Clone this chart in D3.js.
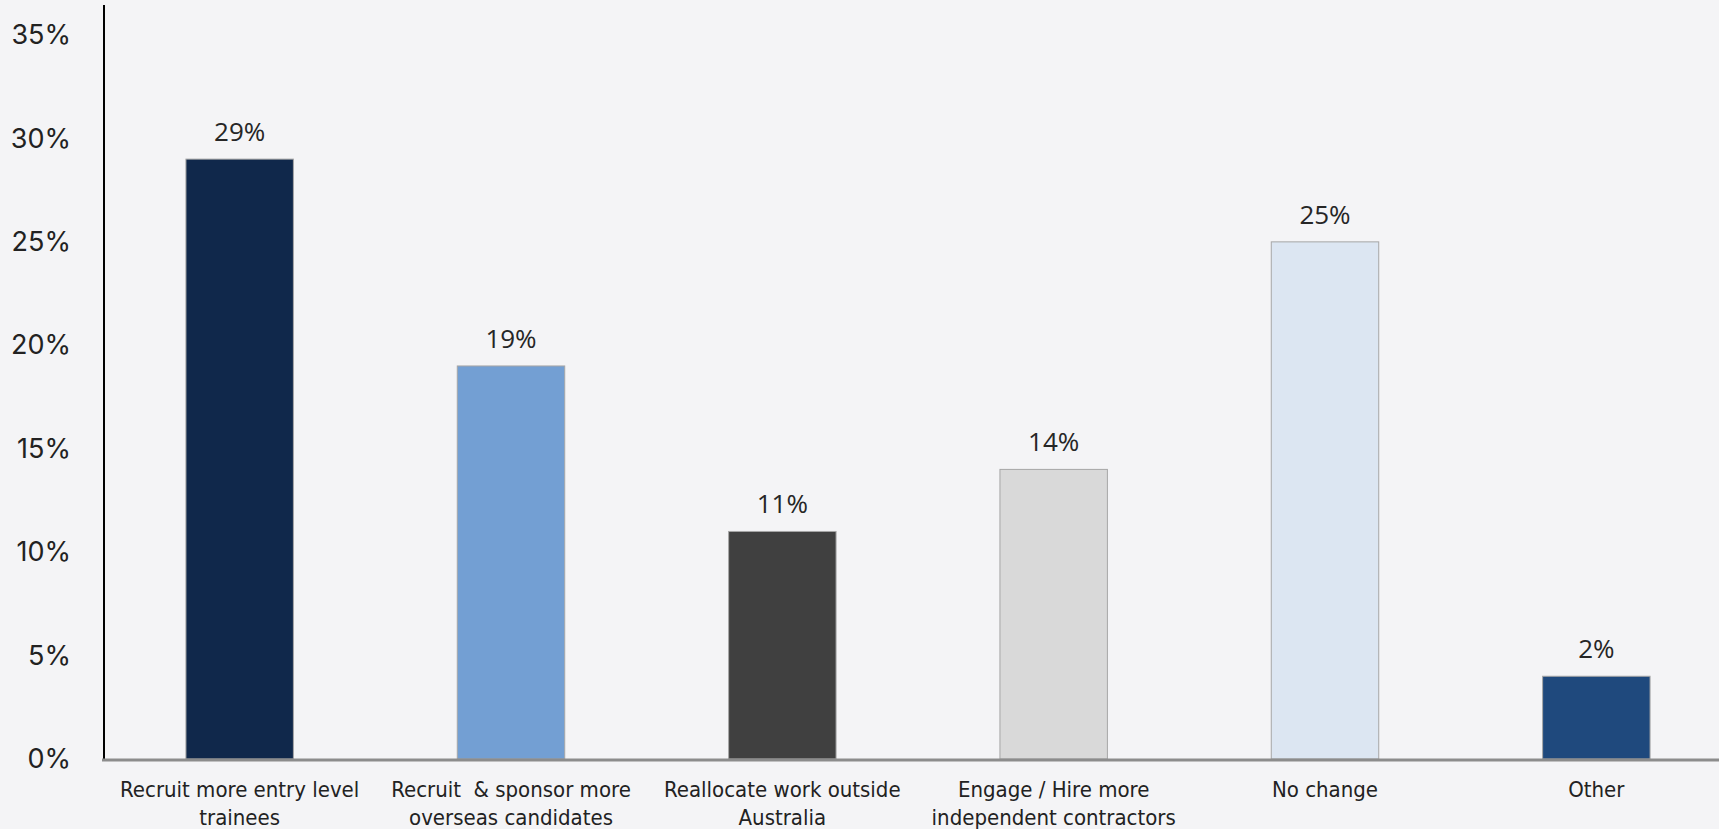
<!DOCTYPE html>
<html>
<head>
<meta charset="utf-8">
<script src="https://cdn.jsdelivr.net/npm/d3@7"></script>
<style>
  html, body { margin: 0; padding: 0; background: #f4f4f6; overflow: hidden; }
  svg { display: block; }
</style>
</head>
<body>
<svg id="chart" width="1719" height="829"></svg>
<script>
const categories = [
  ["Recruit more entry level", "trainees"],
  ["Recruit  & sponsor more", "overseas candidates"],
  ["Reallocate work outside", "Australia"],
  ["Engage / Hire more", "independent contractors"],
  ["No change"],
  ["Other"]
];
const values = [29, 19, 11, 14, 25, 4];
const valueLabels = ["29%", "19%", "11%", "14%", "25%", "2%"];
const colors = ["#10284b", "#739fd3", "#404040", "#d9d9d9", "#dce6f2", "#1f497d"];
const yTicks = [0, 5, 10, 15, 20, 25, 30, 35];

const svg = d3.select("#chart");
const W = 1719, H = 829;
const x0 = 104, x1 = 1732, yBase = 759, yTop = 35;

const x = d3.scaleBand().domain(d3.range(categories.length)).range([x0, x1]).paddingInner(0.604).paddingOuter(0.302);
const y = d3.scaleLinear().domain([0, 35]).range([yBase, yTop]);

svg.append("rect").attr("width", W).attr("height", H).attr("fill", "#f4f4f6");

// bars
svg.selectAll(".bar").data(values).enter().append("rect")
  .attr("x", (d, i) => x(i))
  .attr("y", d => y(d))
  .attr("width", x.bandwidth())
  .attr("height", d => y(0) - y(d))
  .attr("fill", (d, i) => colors[i])
  .attr("stroke", "#a6a6a6")
  .attr("stroke-width", 1);

// value labels
svg.selectAll(".vl").data(values).enter().append("text")
  .attr("x", (d, i) => x(i) + x.bandwidth() / 2)
  .attr("y", d => y(d) - 18)
  .attr("text-anchor", "middle")
  .attr("font-family", "'Open Sans', sans-serif")
  .attr("font-size", 26)
  .attr("fill", "#262626")
  .text((d, i) => valueLabels[i]);

// y axis
const yAxis = d3.axisLeft(y).tickValues(yTicks).tickFormat(d => d + "%").tickSize(0).tickPadding(0);
const gy = svg.append("g").attr("transform", `translate(${x0},0)`).call(yAxis);
gy.select(".domain").remove();
gy.selectAll("text")
  .attr("x", -33)
  .attr("font-family", "Inter, sans-serif")
  .attr("font-size", 27)
  .attr("fill", "#222");
svg.append("line").attr("x1", x0).attr("x2", x0).attr("y1", 5).attr("y2", yBase)
  .attr("stroke", "#000").attr("stroke-width", 2);

// x axis
const xAxis = d3.axisBottom(x).tickSize(0).tickFormat("");
const gx = svg.append("g").attr("transform", `translate(0,${yBase})`).call(xAxis);
gx.select(".domain").remove();
svg.append("line").attr("x1", x0 - 2).attr("x2", W).attr("y1", yBase + 1).attr("y2", yBase + 1)
  .attr("stroke", "#8c8c8c").attr("stroke-width", 3);

gx.selectAll(".tick").each(function(d, i) {
  const t = d3.select(this).append("text")
    .attr("text-anchor", "middle")
    .attr("font-family", "'Liberation Sans Narrow', 'DejaVu Sans Condensed', sans-serif")
    .attr("font-stretch", "condensed")
    .attr("font-size", 22)
    .attr("fill", "#222")
    .style("white-space", "pre");
  categories[i].forEach((line, k) => {
    t.append("tspan").attr("x", 0).attr("y", 38 + k * 28).style("white-space", "pre").text(line);
  });
});
</script>
</body>
</html>
